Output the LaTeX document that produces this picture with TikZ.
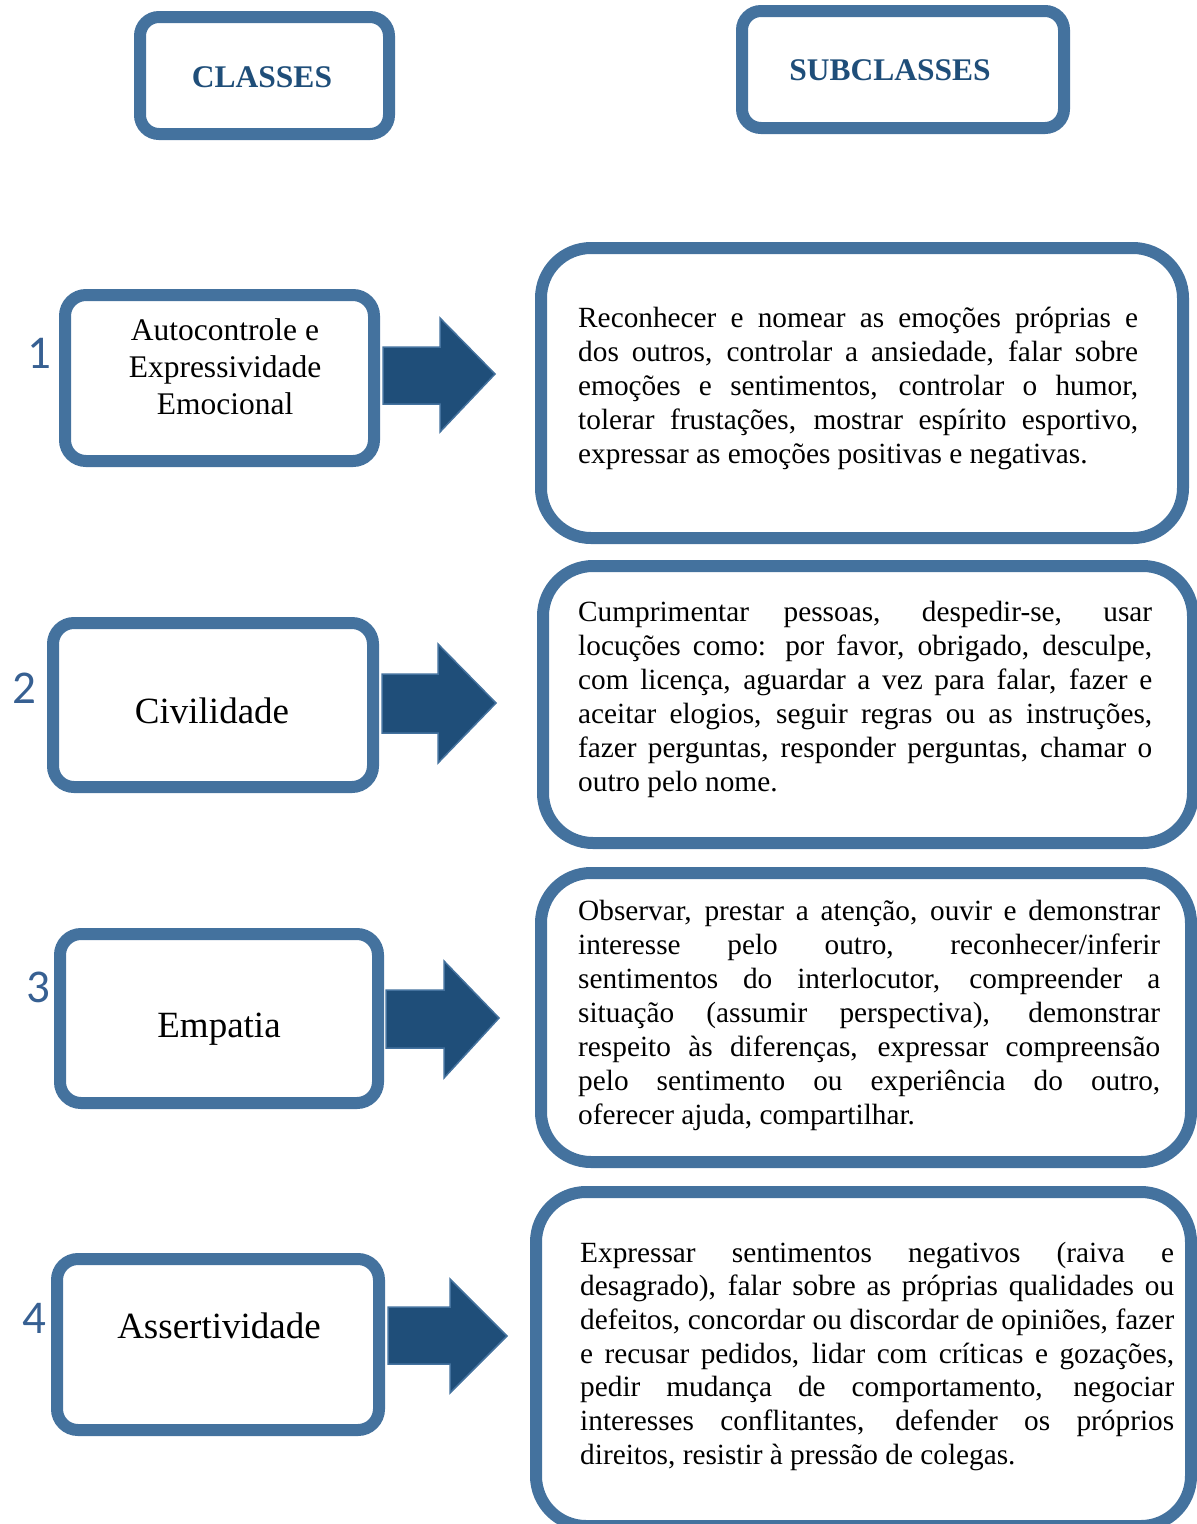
\documentclass[tikz,border=0pt]{standalone}
\usepackage{fontspec}
\setmainfont{Liberation Serif}
\newfontfamily\numfont{Carlito}
\definecolor{bord}{HTML}{44729E}
\definecolor{arrowfill}{HTML}{1F4E79}
\definecolor{hdrcol}{HTML}{1F4E79}
\definecolor{numcol}{HTML}{376092}
\newcommand{\jline}[2]{\makebox[#1][s]{#2}\\}
\newcommand{\lastline}[2]{\makebox[#1][l]{#2}}
\begin{document}
\begin{tikzpicture}[x=1pt,y=-1pt,
  hdrbox/.style={draw=bord, line width=12pt, rounded corners=19pt, inner sep=0pt},
  hdrtext/.style={font=\fontsize{31.5}{36}\selectfont\bfseries, text=hdrcol, inner sep=0pt},
  lbox/.style={draw=bord, line width=12pt, rounded corners=21pt, inner sep=0pt},
  rbox/.style={draw=bord, line width=12pt, rounded corners=50pt, inner sep=0pt},
  ltext/.style={font=\fontsize{37}{44}\selectfont, inner sep=0pt, anchor=base},
  numtext/.style={font=\fontsize{47}{50}\numfont, text=numcol, inner sep=0pt, anchor=base},
  bodytext/.style={font=\fontsize{29.3}{34}\selectfont, inner sep=0pt, anchor=base west},
  blockarrow/.style={fill=arrowfill, draw=bord, line width=1.5pt, line join=miter}
]
\useasboundingbox (0,0) rectangle (1197,1524);
\clip (0,0) rectangle (1197,1524);

% headers
\node[hdrbox, minimum width=249pt, minimum height=117pt] (classes) at (264.5,75.5) {};
\node[hdrtext, anchor=base] (classesT) at (262,87) {CLASSES};
\node[hdrbox, minimum width=322pt, minimum height=117pt] (subclasses) at (903,69.5) {};
\node[hdrtext, anchor=base] (subclassesT) at (890,80) {SUBCLASSES};

% left boxes
\node[lbox, minimum width=309pt, minimum height=166pt] (c1) at (219.5,378) {};
\node[lbox, minimum width=320pt, minimum height=164pt] (c2) at (213,705) {};
\node[lbox, minimum width=318pt, minimum height=169pt] (c3) at (219,1018.5) {};
\node[lbox, minimum width=322pt, minimum height=171pt] (c4) at (218,1344.5) {};

\node[font=\fontsize{31.5}{37}\selectfont, inner sep=0pt, anchor=base] (c1T) at (225,340)
  {\parbox[t]{300pt}{\centering Autocontrole e\\Expressividade\\Emocional}};
\node[ltext] (c2T) at (212,723) {Civilidade};
\node[ltext] (c3T) at (219,1037.5) {Empatia};
\node[ltext] (c4T) at (219,1338) {Assertividade};

% numbers
\node[numtext] (n1) at (39,368) {1};
\node[numtext] (n2) at (24,703) {2};
\node[numtext] (n3) at (38,1002) {3};
\node[numtext] (n4) at (34,1333) {4};

% right boxes
\node[rbox, minimum width=642pt, minimum height=290pt] (s1) at (862,393) {};
\node[rbox, minimum width=650pt, minimum height=277pt] (s2) at (868,704.5) {};
\node[rbox, minimum width=650pt, minimum height=289pt] (s3) at (866,1017.5) {};
\node[rbox, minimum width=655pt, minimum height=334pt] (s4) at (863.5,1359) {};

% block arrows
\draw[blockarrow] (383,347) -- (440,347) -- (440,318) -- (495,374) -- (440,432) -- (440,404) -- (383,404) -- cycle;
\draw[blockarrow] (382,674) -- (438,674) -- (438,644) -- (496,703) -- (438,763) -- (438,733) -- (382,733) -- cycle;
\draw[blockarrow] (386,990) -- (444,990) -- (444,961) -- (499,1018) -- (444,1078) -- (444,1048) -- (386,1048) -- cycle;
\draw[blockarrow] (388,1307) -- (450,1307) -- (450,1279) -- (507,1336) -- (450,1393) -- (450,1364) -- (388,1364) -- cycle;

% right texts
\node[bodytext] (s1T) at (578,327) {\parbox[t]{560pt}{\fontsize{29.3}{34}\selectfont
\jline{560pt}{Reconhecer e nomear as emoções próprias e}
\jline{560pt}{dos outros, controlar a ansiedade, falar sobre}
\jline{560pt}{emoções e sentimentos, controlar o humor,}
\jline{560pt}{tolerar frustações, mostrar espírito esportivo,}
\lastline{560pt}{expressar as emoções positivas e negativas.}}};

\node[bodytext] (s2T) at (578,621) {\parbox[t]{574pt}{\fontsize{29.3}{34}\selectfont
\jline{574pt}{Cumprimentar pessoas, despedir-se, usar}
\jline{574pt}{locuções como: por favor, obrigado, desculpe,}
\jline{574pt}{com licença, aguardar a vez para falar, fazer e}
\jline{574pt}{aceitar elogios, seguir regras ou as instruções,}
\jline{574pt}{fazer perguntas, responder perguntas, chamar o}
\lastline{574pt}{outro pelo nome.}}};

\node[bodytext] (s3T) at (578,920) {\parbox[t]{582pt}{\fontsize{29.3}{34}\selectfont
\jline{582pt}{Observar, prestar a atenção, ouvir e demonstrar}
\jline{582pt}{interesse pelo outro, reconhecer/inferir}
\jline{582pt}{sentimentos do interlocutor, compreender a}
\jline{582pt}{situação (assumir perspectiva), demonstrar}
\jline{582pt}{respeito às diferenças, expressar compreensão}
\jline{582pt}{pelo sentimento ou experiência do outro,}
\lastline{582pt}{oferecer ajuda, compartilhar.}}};

\node[bodytext] (s4T) at (580,1262) {\parbox[t]{594pt}{\fontsize{29.3}{33.7}\selectfont
\jline{594pt}{Expressar sentimentos negativos (raiva e}
\jline{594pt}{desagrado), falar sobre as próprias qualidades ou}
\jline{594pt}{defeitos, concordar ou discordar de opiniões, fazer}
\jline{594pt}{e recusar pedidos, lidar com críticas e gozações,}
\jline{594pt}{pedir mudança de comportamento, negociar}
\jline{594pt}{interesses conflitantes, defender os próprios}
\lastline{594pt}{direitos, resistir à pressão de colegas.}}};
\end{tikzpicture}
\end{document}
